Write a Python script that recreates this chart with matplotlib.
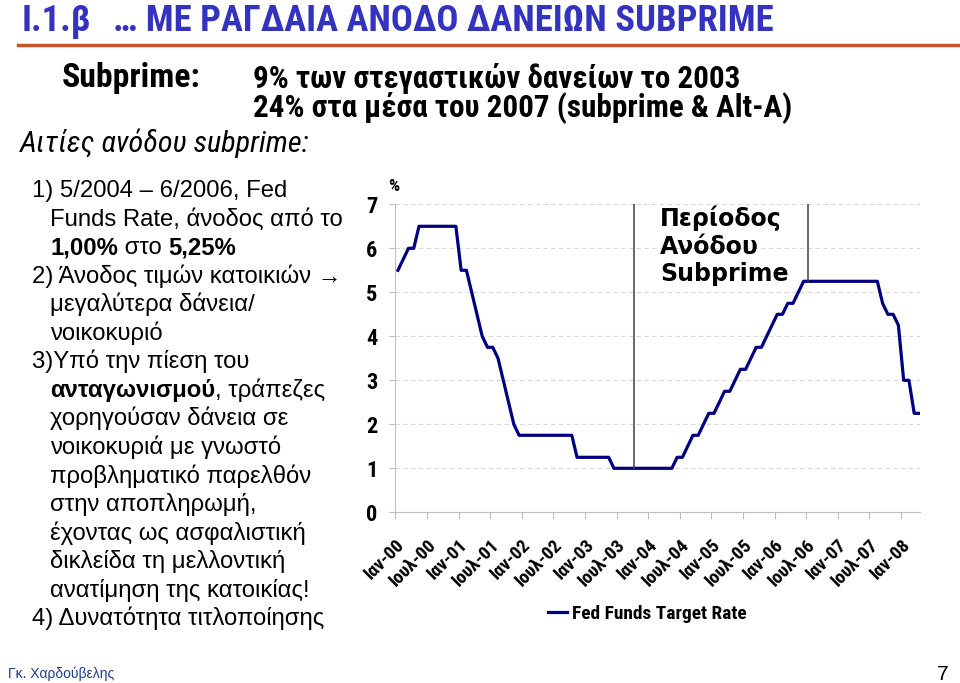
import numpy as np
import matplotlib
matplotlib.use('Agg')
import matplotlib.pyplot as plt
from matplotlib.lines import Line2D

# Fed funds target rate, monthly, Jan 2000 .. Apr 2008
rate = [5.5, 5.75, 6.0, 6.0, 6.5, 6.5, 6.5, 6.5, 6.5, 6.5, 6.5, 6.5,      # 2000
        5.5, 5.5, 5.0, 4.5, 4.0, 3.75, 3.75, 3.5, 3.0, 2.5, 2.0, 1.75,    # 2001
        1.75, 1.75, 1.75, 1.75, 1.75, 1.75, 1.75, 1.75, 1.75, 1.75, 1.25, 1.25,  # 2002
        1.25, 1.25, 1.25, 1.25, 1.25, 1.0, 1.0, 1.0, 1.0, 1.0, 1.0, 1.0,  # 2003
        1.0, 1.0, 1.0, 1.0, 1.0, 1.25, 1.25, 1.5, 1.75, 1.75, 2.0, 2.25,  # 2004
        2.25, 2.5, 2.75, 2.75, 3.0, 3.25, 3.25, 3.5, 3.75, 3.75, 4.0, 4.25,  # 2005
        4.5, 4.5, 4.75, 4.75, 5.0, 5.25, 5.25, 5.25, 5.25, 5.25, 5.25, 5.25,  # 2006
        5.25, 5.25, 5.25, 5.25, 5.25, 5.25, 5.25, 5.25, 4.75, 4.5, 4.5, 4.25,  # 2007
        3.0, 3.0, 2.25, 2.25]                                               # 2008
tick_labels = ['Ιαν-00', 'Ιουλ-00', 'Ιαν-01', 'Ιουλ-01', 'Ιαν-02', 'Ιουλ-02',
               'Ιαν-03', 'Ιουλ-03', 'Ιαν-04', 'Ιουλ-04', 'Ιαν-05', 'Ιουλ-05',
               'Ιαν-06', 'Ιουλ-06', 'Ιαν-07', 'Ιουλ-07', 'Ιαν-08']
period_marks = [45.35, 78.4]   # months since Jan 2000 where the drawn lines sit
series_name = 'Fed Funds Target Rate'

left_lines = [
    (32, [('1) 5/2004 – 6/2006, Fed', 'normal')]),
    (50, [('Funds Rate, άνοδος από το', 'normal')]),
    (50, [('1,00%', 'bold'), (' στο ', 'normal'), ('5,25%', 'bold')]),
    (32, [('2) Άνοδος τιμών κατοικιών →', 'normal')]),
    (50, [('μεγαλύτερα δάνεια/', 'normal')]),
    (50, [('νοικοκυριό', 'normal')]),
    (32, [('3)Υπό την πίεση του', 'normal')]),
    (50, [('ανταγωνισμού', 'bold'), (', τράπεζες', 'normal')]),
    (50, [('χορηγούσαν δάνεια σε', 'normal')]),
    (50, [('νοικοκυριά με γνωστό', 'normal')]),
    (50, [('προβληματικό παρελθόν', 'normal')]),
    (50, [('στην αποπληρωμή,', 'normal')]),
    (50, [('έχοντας ως ασφαλιστική', 'normal')]),
    (50, [('δικλείδα τη μελλοντική', 'normal')]),
    (50, [('ανατίμηση της κατοικίας!', 'normal')]),
    (32, [('4) Δυνατότητα τιτλοποίησης', 'normal')]),
]

NARROW = ['Roboto Condensed', 'Liberation Sans', 'DejaVu Sans']
ARIAL = ['Liberation Sans', 'DejaVu Sans']
W, H = 960, 683


def fx(x):
    return x / W


def fy(y):
    return 1 - y / H


fig = plt.figure(figsize=(9.6, 6.83), dpi=100)
fig.patch.set_facecolor('white')
renderer = fig.canvas.get_renderer()


def text_width(s, **kw):
    a = fig.text(0, 0, 'x' + s + 'x', **kw)
    b = fig.text(0, 0, 'xx', **kw)
    w = a.get_window_extent(renderer).width - b.get_window_extent(renderer).width
    a.remove()
    b.remove()
    return w


def fitted(s, width, **kw):
    # font size that makes s about `width` pixels wide
    return 20 * width / text_width(s, fontsize=20, **kw)


# header
title_kw = dict(family=NARROW, fontweight='bold', color='#3333C0', va='baseline')
t2 = '… ΜΕ ΡΑΓΔΑΙΑ ΑΝΟΔΟ ΔΑΝΕΙΩΝ SUBPRIME'
title_size = 0.94 * fitted(t2, 702, **title_kw)
fig.text(fx(22), fy(31), 'I.1.β', fontsize=title_size, **title_kw)
fig.text(fx(113), fy(31), t2, fontsize=title_size, **title_kw)
fig.add_artist(Line2D([fx(18), 1], [fy(45), fy(45)], color='#C8502A', lw=2.5))

head_kw = dict(family=NARROW, fontweight='bold', va='center')
fig.text(fx(62), fy(78), 'Subprime:', fontsize=fitted('Subprime:', 138, **head_kw), **head_kw)
s1 = '9% των στεγαστικών δανείων το 2003'
s2 = '24% στα μέσα του 2007 (subprime & Alt-A)'
size_s = fitted(s2, 539, **head_kw)
fig.text(fx(253), fy(78), s1, fontsize=size_s, **head_kw)
fig.text(fx(253), fy(108), s2, fontsize=size_s, **head_kw)
it_kw = dict(family=NARROW, style='italic', va='center')
s3 = 'Αιτίες ανόδου subprime:'
fig.text(fx(20), fy(143), s3, fontsize=fitted(s3, 290, **it_kw), **it_kw)

# left column, baselines every ~28.6 px
for i, (x0, runs) in enumerate(left_lines):
    y = 197 + i * 28.55
    x = x0
    for s, wt in runs:
        kw = dict(family=ARIAL, fontsize=17.2, fontweight=wt)
        fig.text(fx(x), fy(y), s, va='baseline', **kw)
        x += text_width(s, **kw)

# chart
ax = fig.add_axes([fx(395.3), fy(512.3), fx(920) - fx(395.3), fy(204.3) - fy(512.3)])
months = np.arange(len(rate)) + 0.5
ax.plot(months, rate, color='#000080', lw=2.3, solid_joinstyle='round', label=series_name)
for m in period_marks:
    ax.plot([m, m], [np.interp(m, months, rate), 7], color='#404040', lw=1.1)

ax.set_xlim(0, 99.6)
ax.set_ylim(0, 7)
ax.set_yticks(range(8))
ax.set_yticklabels([str(v) for v in range(8)], family=NARROW, fontsize=16, fontweight='bold')
ax.set_xticks(np.arange(0, 97, 6))
ax.set_xticklabels(tick_labels, family=NARROW, fontsize=13.5, fontweight='bold',
                   rotation=45, ha='right', va='top', rotation_mode='anchor')
ax.tick_params(axis='x', length=5, color='#BFBFBF', pad=12)
ax.tick_params(axis='y', length=4, color='#BFBFBF', pad=9)
ax.yaxis.grid(True, color='#D9D9D9', linestyle=(0, (4, 3)), lw=0.8)
ax.set_axisbelow(True)
for side in ['top', 'right']:
    ax.spines[side].set_visible(False)
for side in ['left', 'bottom']:
    ax.spines[side].set_color('#BFBFBF')

fig.text(fx(388), fy(186), '%', family=NARROW, fontsize=12.5, fontweight='bold', va='center')
fig.text(fx(660), fy(206), 'Περίοδος\nΑνόδου\nSubprime', family=['DejaVu Sans'], fontsize=17,
         fontweight='bold', va='top', linespacing=1.16)

leg_size = fitted(series_name, 174, family=NARROW, fontweight='bold')
fig.legend(handles=ax.get_lines()[:1], loc='center left', bbox_to_anchor=(fx(548), fy(614)),
           frameon=False, handlelength=19 / (leg_size * 1.389), handletextpad=5 / (leg_size * 1.389),
           borderpad=0, borderaxespad=0,
           prop=dict(family=NARROW, size=leg_size, weight='bold'))

# footer
fig.text(fx(8), fy(674), 'Γκ. Χαρδούβελης', family=ARIAL, fontsize=10, color='#1F3C88', va='center')
fig.text(fx(948), fy(674), '7', family=ARIAL, fontsize=15, ha='right', va='center')

fig.savefig('out.png', dpi=100)
